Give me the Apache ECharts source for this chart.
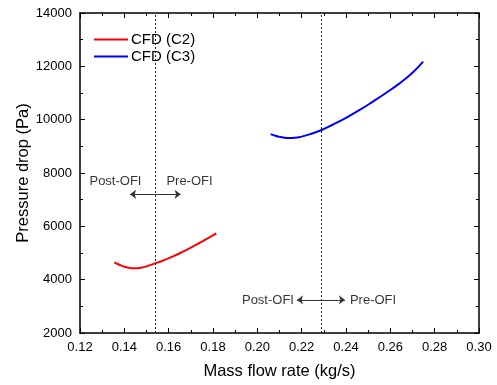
<!DOCTYPE html>
<html>
<head>
<meta charset="utf-8">
<script src="https://cdn.jsdelivr.net/npm/echarts@6/dist/echarts.min.js"></script>
<style>
  html, body { margin: 0; padding: 0; background: #fff; }
  #main { width: 497px; height: 385px; }
</style>
</head>
<body>
<div id="main"></div>
<script>
// CFD (C2) curve: [mass flow rate kg/s, pressure drop Pa]
const c2Data = [
  [0.1355, 4650], [0.138, 4550], [0.140, 4485], [0.142, 4445], [0.144, 4428],
  [0.146, 4432], [0.148, 4458], [0.150, 4500], [0.154, 4612], [0.158, 4735],
  [0.162, 4875], [0.166, 5030], [0.170, 5200], [0.174, 5380], [0.178, 5570],
  [0.1815, 5740]
];
// CFD (C3) curve
const c3Data = [
  [0.206, 9460], [0.208, 9400], [0.210, 9355], [0.212, 9325], [0.2145, 9312],
  [0.217, 9320], [0.220, 9365], [0.224, 9460], [0.229, 9612], [0.234, 9810],
  [0.240, 10070], [0.246, 10355], [0.252, 10670], [0.258, 11000], [0.264, 11350],
  [0.270, 11760], [0.2748, 12175]
];
// OFI onset positions (dotted lines)
const ofiX = [0.154, 0.229];
// arrows: [start, end]
const arrows = [
  [[0.154, 7200], [0.1426, 7200]],
  [[0.154, 7200], [0.1654, 7200]],
  [[0.229, 3240], [0.2179, 3240]],
  [[0.229, 3240], [0.2395, 3240]]
];
// annotation labels
const notes = [
  { value: [0.136, 7700], text: 'Post-OFI' },
  { value: [0.1694, 7700], text: 'Pre-OFI' },
  { value: [0.2048, 3240], text: 'Post-OFI' },
  { value: [0.2522, 3240], text: 'Pre-OFI' }
];

const chart = echarts.init(document.getElementById('main'), null, { renderer: 'canvas' });
const font = 'Liberation Sans, Arial, sans-serif';
const tickStyle = { color: '#000', width: 1 };
const axLine = { show: true, onZero: false, lineStyle: { color: '#000', width: 1.5 } };

const option = {
  animation: false,
  textStyle: { fontFamily: font },
  grid: { left: 80, right: 18, top: 13, bottom: 52 },
  legend: {
    data: ['CFD (C2)', 'CFD (C3)'],
    orient: 'vertical',
    left: 89, top: 27,
    itemWidth: 34, itemHeight: 2, itemGap: 2,
    icon: 'rect',
    textStyle: { fontSize: 15, color: '#000', fontFamily: font, padding: [0, 0, 0, -2] }
  },
  xAxis: [{
    type: 'value', min: 0.12, max: 0.30, interval: 0.02,
    name: 'Mass flow rate (kg/s)', nameLocation: 'middle', nameGap: 30,
    nameTextStyle: { fontSize: 16.5, color: '#000', fontFamily: font },
    axisLine: axLine,
    axisTick: { inside: true, length: 5, lineStyle: tickStyle },
    minorTick: { show: true, splitNumber: 2, length: 3, lineStyle: tickStyle },
    axisLabel: { fontSize: 13, color: '#000', margin: 8, formatter: v => v.toFixed(2) },
    splitLine: { show: false }
  }, {
    type: 'value', position: 'top', min: 0.12, max: 0.30, interval: 0.02,
    axisLine: axLine,
    axisTick: { inside: true, length: 5, lineStyle: tickStyle },
    minorTick: { show: true, splitNumber: 2, length: 3, lineStyle: tickStyle },
    axisLabel: { show: false }, splitLine: { show: false }
  }],
  yAxis: [{
    type: 'value', min: 2000, max: 14000, interval: 2000,
    name: 'Pressure drop (Pa)', nameLocation: 'middle', nameGap: 48,
    nameMoveOverlap: false,
    nameTextStyle: { fontSize: 16.5, color: '#000', fontFamily: font },
    axisLine: axLine,
    axisTick: { inside: true, length: 5, lineStyle: tickStyle },
    minorTick: { show: true, splitNumber: 2, length: 3, lineStyle: tickStyle },
    axisLabel: { fontSize: 13, color: '#000', margin: 8, formatter: v => String(v) },
    splitLine: { show: false }
  }, {
    type: 'value', position: 'right', min: 2000, max: 14000, interval: 2000,
    axisLine: axLine,
    axisTick: { inside: true, length: 5, lineStyle: tickStyle },
    minorTick: { show: true, splitNumber: 2, length: 3, lineStyle: tickStyle },
    axisLabel: { show: false }, splitLine: { show: false }
  }],
  series: [{
    name: 'CFD (C2)', type: 'line', data: c2Data, smooth: true, showSymbol: false,
    color: '#ff0000', lineStyle: { width: 2 },
    markLine: {
      silent: true, symbol: 'none', precision: 4, label: { show: false },
      lineStyle: { color: '#222', type: [2, 2], width: 1 },
      data: ofiX.map(x => ({ xAxis: x }))
    }
  }, {
    name: 'CFD (C3)', type: 'line', data: c3Data, smooth: true, showSymbol: false,
    color: '#0000ff', lineStyle: { width: 2 },
    markLine: {
      silent: true, symbol: ['none', 'arrow'], symbolSize: [7, 6], precision: 4,
      label: { show: false },
      lineStyle: { color: '#333', type: 'solid', width: 1 },
      data: arrows.map(a => [{ coord: a[0] }, { coord: a[1] }])
    }
  }, {
    type: 'scatter', symbolSize: 0, silent: true,
    data: notes.map(n => ({ value: n.value, name: n.text })),
    label: {
      show: true, position: 'inside', formatter: p => p.name,
      fontSize: 13, color: '#000', fontFamily: font
    }
  }]
};

chart.setOption(option);
</script>
</body>
</html>
